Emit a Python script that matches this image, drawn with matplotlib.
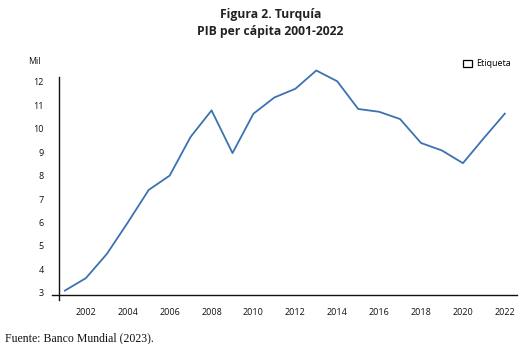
import matplotlib
matplotlib.use('Agg')
import matplotlib.pyplot as plt
from matplotlib.patches import Patch

# Datos: PIB per cápita de Turquía (miles de US$)
anios = list(range(2001, 2023))
pib = [3.10, 3.63, 4.66, 6.00, 7.39, 8.00, 9.65, 10.78, 8.96, 10.64, 11.33,
       11.70, 12.48, 12.02, 10.84, 10.72, 10.41, 9.39, 9.07, 8.53, 9.60, 10.64]
ticks_x = list(range(2002, 2023, 2))
ticks_y = list(range(3, 13))

plt.rcParams['font.family'] = ['Open Sans', 'DejaVu Sans']

fig = plt.figure(figsize=(5.30, 3.44), dpi=100)
ax = fig.add_axes([0.098, 0.128, 0.877, 0.648])

ax.plot(anios, pib, color='#3C72B0', linewidth=1.3, clip_on=False)

ax.set_xlim(2000.38, 2022.57)
ax.set_ylim(2.7, 12.2)
ax.set_xticks(ticks_x)
ax.set_yticks(ticks_y)
ax.tick_params(axis='both', length=0, labelsize=6.5, colors='#111111')
ax.tick_params(axis='x', pad=9)
ax.tick_params(axis='y', pad=11)

ax.spines['top'].set_visible(False)
ax.spines['right'].set_visible(False)
ax.spines['left'].set_position(('data', 2000.71))
ax.spines['bottom'].set_position(('data', 2.91))
for s in ('left', 'bottom'):
    ax.spines[s].set_color('#111111')
    ax.spines[s].set_linewidth(1.0)

# Títulos
fig.text(0.51, 0.957, 'Figura 2. Turquía', ha='center', va='center',
         fontsize=8.7, fontweight='bold', color='#222222')
fig.text(0.51, 0.907, 'PIB per cápita 2001-2022', ha='center', va='center',
         fontsize=8.7, fontweight='bold', color='#222222')
fig.text(0.064, 0.82, 'Mil', ha='center', va='center', fontsize=6.3, color='#111111')

# Leyenda
handle = Patch(facecolor='none', edgecolor='black', linewidth=0.9)
ax.legend([handle], ['Etiqueta'], loc='upper right', bbox_to_anchor=(0.995, 1.095),
          frameon=False, fontsize=6.5, handlelength=0.9, handleheight=0.9,
          handletextpad=0.5, borderaxespad=0)

fig.text(0.01, 0.018, 'Fuente: Banco Mundial (2023).', ha='left', va='center',
         fontsize=8.5, family='Liberation Serif', color='#111111')

fig.savefig('out.png', dpi=100)
